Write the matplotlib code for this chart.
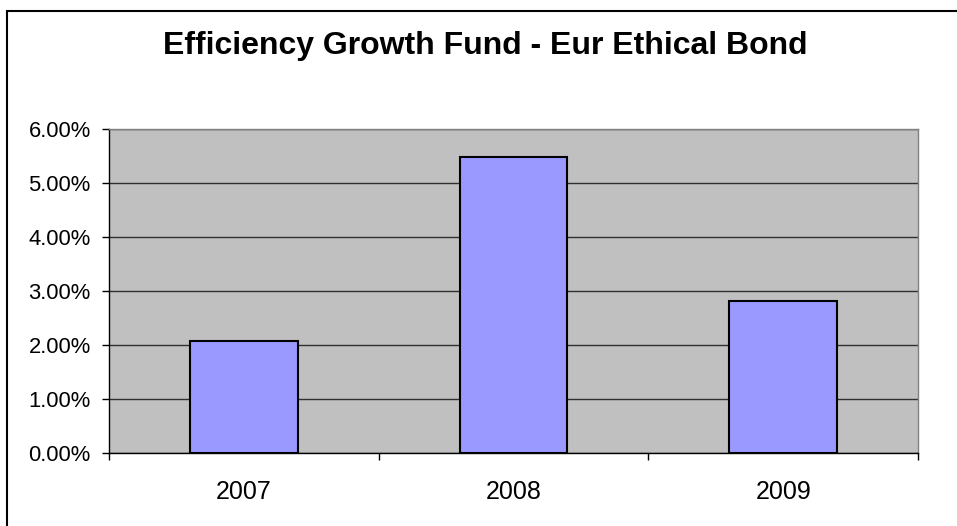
import numpy as np
import matplotlib.pyplot as plt
from matplotlib.patches import Rectangle
from matplotlib.ticker import FuncFormatter

plt.rcParams['font.family'] = ['Liberation Sans', 'DejaVu Sans']

years = ['2007', '2008', '2009']
returns = [2.08, 5.49, 2.81]  # percent
title = 'Efficiency Growth Fund - Eur Ethical Bond'

fig = plt.figure(figsize=(9.57, 5.26), dpi=100)
ax = fig.add_axes([108.7 / 957, 1 - 452.7 / 526, (918.3 - 108.7) / 957, (452.7 - 129.3) / 526])
ax.set_facecolor('#C0C0C0')

x = np.arange(len(years))
ax.bar(x, returns, width=0.4, color='#9999FF', edgecolor='black', linewidth=1.5, zorder=3)

ax.set_xlim(-0.5, len(years) - 0.5)
ax.set_ylim(0, 6)
ax.set_yticks(np.arange(0, 7, 1))
ax.yaxis.set_major_formatter(FuncFormatter(lambda v, p: '%.2f%%' % v))
ax.grid(axis='y', color='#303030', linewidth=1, zorder=1)

# ticks at category boundaries, labels at centres
ax.set_xticks(np.arange(-0.5, len(years), 1))
ax.set_xticklabels([])
ax.set_xticks(x, minor=True)
ax.set_xticklabels(years, minor=True, fontsize=18)
ax.tick_params(axis='x', which='major', direction='out', length=5, width=1, color='black')
ax.tick_params(axis='x', which='minor', length=0, pad=20)
ax.tick_params(axis='y', direction='out', length=5, width=1, pad=8, labelsize=15.8)

for s in ['top', 'right']:
    ax.spines[s].set_color('#808080')
for s in ['left', 'bottom']:
    ax.spines[s].set_color('black')
for s in ax.spines.values():
    s.set_linewidth(1)

fig.text(485 / 957, 1 - 54 / 526, title, ha='center', va='baseline',
         fontsize=23, fontweight='bold')

# chart area frame
fig.patches.append(Rectangle((7 / 957, -0.05), 1.1, 1 - 11 / 526 + 0.05,
                             transform=fig.transFigure, fill=False,
                             edgecolor='black', linewidth=1.5))

fig.savefig('out.png', dpi=100)
